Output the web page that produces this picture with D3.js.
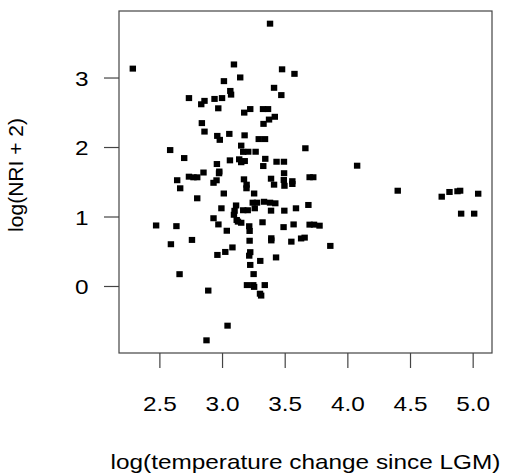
<!DOCTYPE html>
<html>
<head>
<meta charset="utf-8">
<script src="https://cdn.jsdelivr.net/npm/d3@7/dist/d3.min.js"></script>
<style>
  html, body { margin: 0; padding: 0; background: #fff; }
  svg { display: block; }
  text { font-family: "Liberation Sans", Arial, sans-serif; fill: #000; }
</style>
</head>
<body>
<svg id="chart" width="505" height="476"></svg>
<script>
// log(temperature change since LGM)
const xs = [
  2.288, 3.095, 3.145, 3.015, 3.066, 3.072, 2.736, 2.860, 2.834, 2.940,
  3.000, 2.970, 2.839, 2.860, 3.383, 3.479, 3.578, 3.415, 3.473, 3.225,
  3.177, 3.327, 3.367, 3.421, 3.375, 3.331, 2.962, 2.982, 3.058, 3.180,
  3.293, 3.343, 3.153, 3.665, 2.586, 3.169, 3.209, 3.268, 2.698, 3.345,
  3.063, 3.137, 3.153, 3.181, 3.435, 3.494, 2.959, 3.329, 4.078, 2.978,
  2.976, 2.852, 3.495, 2.736, 2.772, 2.802, 2.642, 2.956, 2.932, 3.175,
  3.196, 3.195, 3.391, 3.415, 3.493, 3.498, 3.561, 3.561, 3.699, 3.728,
  2.666, 3.014, 3.256, 2.802, 3.112, 3.100, 3.095, 3.117, 3.127, 2.995,
  3.169, 3.205, 3.245, 3.279, 3.335, 3.383, 3.425, 3.261, 3.391, 3.497,
  3.590, 3.689, 2.932, 2.971, 3.038, 2.474, 2.636, 3.153, 3.217, 3.220,
  3.323, 3.491, 3.571, 3.699, 3.734, 3.778, 2.760, 2.592, 3.220, 3.393,
  3.393, 3.553, 3.631, 3.659, 3.864, 3.083, 3.026, 2.963, 3.225, 3.217,
  3.305, 3.431, 3.225, 3.252, 2.661, 3.199, 3.249, 3.256, 3.341, 3.303,
  3.312, 2.890, 3.044, 2.876, 4.402, 4.753, 4.815, 4.879, 4.900, 5.044,
  4.908, 5.012
];
// log(NRI + 2)
const ys = [
  3.128, 3.188, 3.001, 2.948, 2.807, 2.754, 2.704, 2.664, 2.615, 2.692,
  2.704, 2.557, 2.344, 2.222, 3.775, 3.118, 3.053, 2.852, 2.747, 2.546,
  2.495, 2.546, 2.546, 2.435, 2.395, 2.333, 2.160, 2.103, 2.189, 2.168,
  2.114, 2.114, 2.020, 1.982, 1.956, 1.930, 1.932, 1.932, 1.841, 1.830,
  1.808, 1.823, 1.781, 1.798, 1.788, 1.788, 1.755, 1.726, 1.731, 1.647,
  1.622, 1.633, 1.623, 1.573, 1.564, 1.564, 1.522, 1.521, 1.485, 1.535,
  1.458, 1.406, 1.544, 1.458, 1.525, 1.442, 1.508, 1.468, 1.565, 1.565,
  1.406, 1.331, 1.331, 1.262, 1.159, 1.082, 1.025, 0.950, 0.926, 1.118,
  1.090, 1.090, 1.199, 1.199, 1.212, 1.199, 1.190, 1.118, 1.084, 1.084,
  1.118, 1.166, 0.975, 0.886, 0.795, 0.871, 0.861, 0.910, 0.860, 0.792,
  0.917, 0.847, 0.886, 0.883, 0.883, 0.868, 0.663, 0.601, 0.651, 0.687,
  0.656, 0.638, 0.684, 0.696, 0.577, 0.555, 0.490, 0.447, 0.487, 0.436,
  0.361, 0.411, 0.303, 0.171, 0.170, 0.013, 0.013, -0.013, 0.013, -0.111,
  -0.138, -0.066, -0.571, -0.782, 1.371, 1.285, 1.353, 1.363, 1.371, 1.328,
  1.041, 1.041
];
const xTicks = [2.5, 3.0, 3.5, 4.0, 4.5, 5.0];
const yTicks = [0, 1, 2, 3];
const xLabel = "log(temperature change since LGM)";
const yLabel = "log(NRI + 2)";

const svg = d3.select("#chart");
const mLeft = 119, mRight = 492, mTop = 11, mBottom = 353;
const SX = 1.16;   // horizontal stretch of the raster
const FS = 21;

function pad(ext) { const r = ext[1] - ext[0]; return [ext[0] - 0.04 * r, ext[1] + 0.04 * r]; }
const x = d3.scaleLinear().domain(pad(d3.extent(xs))).range([mLeft, mRight]);
const y = d3.scaleLinear().domain(pad(d3.extent(ys))).range([mBottom, mTop]);

// points
const pts = xs.map((v, i) => [v, ys[i]]);
const sw = 6.4, sh = 6.0;
svg.append("g").selectAll("rect").data(pts).join("rect")
  .attr("x", d => x(d[0]) - sw / 2)
  .attr("y", d => y(d[1]) - sh / 2)
  .attr("width", sw).attr("height", sh)
  .attr("fill", "#000");

// box
svg.append("rect")
  .attr("x", mLeft).attr("y", mTop)
  .attr("width", mRight - mLeft).attr("height", mBottom - mTop)
  .attr("fill", "none").attr("stroke", "#444").attr("stroke-width", 1.2);

// x axis
const gx = svg.append("g").attr("transform", `translate(0,${mBottom})`)
  .call(d3.axisBottom(x).tickValues(xTicks).tickSize(15).tickFormat(d3.format(".1f")));
gx.select(".domain").remove();
gx.selectAll(".tick line").attr("stroke", "#444").attr("stroke-width", 1.2);
gx.selectAll(".tick text")
  .attr("y", null).attr("dy", null)
  .attr("transform", `translate(0,57.5) scale(${SX},1)`)
  .attr("font-size", FS).attr("font-family", "Liberation Sans, Arial, sans-serif")
  .attr("fill", "#000");

// y axis
const gy = svg.append("g").attr("transform", `translate(${mLeft},0)`)
  .call(d3.axisLeft(y).tickValues(yTicks).tickSize(15).tickFormat(d3.format("d")));
gy.select(".domain").remove();
gy.selectAll(".tick line").attr("stroke", "#444").attr("stroke-width", 1.2);
gy.selectAll(".tick text")
  .attr("x", null).attr("dy", null)
  .attr("text-anchor", "end")
  .attr("transform", `translate(-30.5,7.6) scale(${SX},1)`)
  .attr("font-size", FS).attr("font-family", "Liberation Sans, Arial, sans-serif")
  .attr("fill", "#000");

// axis titles
svg.append("text")
  .attr("transform", `translate(${(mLeft + mRight) / 2},468.5) scale(${SX},1)`)
  .attr("text-anchor", "middle").attr("font-size", FS)
  .text(xLabel);

svg.append("text")
  .attr("transform", `translate(23,175) rotate(-90)`)
  .attr("text-anchor", "middle").attr("font-size", FS)
  .text(yLabel);
</script>
</body>
</html>
